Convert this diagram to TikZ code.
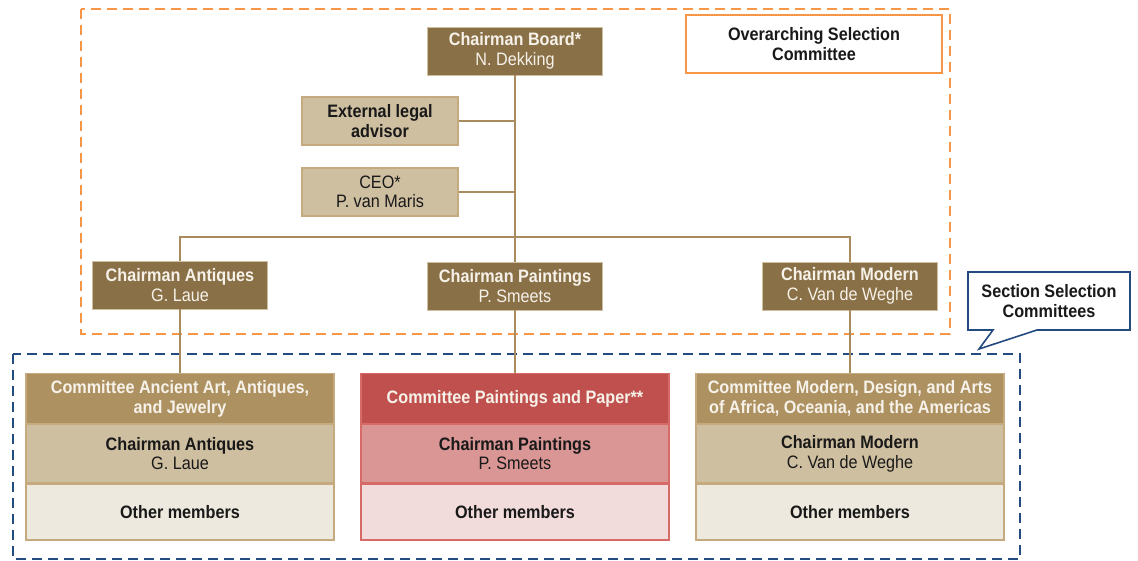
\documentclass[tikz,border=0pt]{standalone}
\usepackage{fontspec}
\setmainfont{Liberation Sans}[FakeStretch=0.9]
\definecolor{brownD}{RGB}{138,112,71}
\definecolor{tanL}{RGB}{207,191,161}
\definecolor{tanH}{RGB}{173,145,97}
\definecolor{creamL}{RGB}{237,233,222}
\definecolor{tanB}{RGB}{196,170,126}
\definecolor{lineC}{RGB}{168,140,94}
\definecolor{redH}{RGB}{192,80,77}
\definecolor{pinkM}{RGB}{217,150,148}
\definecolor{pinkL}{RGB}{242,220,219}
\definecolor{redB}{RGB}{214,106,102}
\definecolor{orangeC}{RGB}{247,150,70}
\definecolor{blueC}{RGB}{36,75,128}
\definecolor{lightT}{RGB}{246,242,233}
\definecolor{darkT}{RGB}{25,25,25}
\begin{document}
\begin{tikzpicture}[x=1pt,y=-1pt,
  txt/.style={font=\fontsize{18}{19.5}\selectfont, align=center, inner sep=0pt},
  chair/.style={txt, fill=brownD, draw=tanL, line width=0.8pt, text=lightT, minimum width=175pt, minimum height=48pt},
  side/.style={txt, fill=tanL, draw=tanB, line width=1.2pt, text=darkT, minimum width=156pt, minimum height=48pt},
  comm/.style={txt, line width=1.2pt, minimum width=308pt, anchor=north},
  conn/.style={draw=lineC, line width=2pt},
  odash/.style={draw=orangeC, line width=2.4pt, dash pattern=on 10pt off 6pt},
  bdash/.style={draw=blueC, line width=2.2pt, dash pattern=on 10pt off 6pt}
]
\useasboundingbox (0,0) rectangle (1138,561);
% group frames
\draw[odash] (81,9) rectangle (950,334);
\draw[bdash] (13,354) rectangle (1020,559);
% overarching label
\node[txt, draw=orangeC, line width=2pt, fill=white, text=darkT, minimum width=256pt, minimum height=58pt] (osc) at (814,44) {\bfseries Overarching Selection\\\bfseries Committee};
% callout
\draw[draw=blueC, line width=1.6pt, fill=white, line join=miter] (968,272) -- (1130,272) -- (1130,330) -- (1037,330) -- (979,349) -- (993,330) -- (968,330) -- cycle;
\node[txt, text=darkT] (ssc) at (1049,301) {\bfseries Section Selection\\\bfseries Committees};
% top level
\node[chair] (cb) at (515,51) {\bfseries Chairman Board*\\N. Dekking};
\node[side] (ext) at (380,121) {\bfseries External legal\\\bfseries advisor};
\node[side] (ceo) at (380,192) {CEO*\\P. van Maris};
\node[chair] (ca) at (180,285) {\bfseries Chairman Antiques\\G. Laue};
\node[chair] (cp) at (515,286) {\bfseries Chairman Paintings\\P. Smeets};
\node[chair] (cm) at (850,286) {\bfseries Chairman Modern\\C. Van de Weghe};
% committees left
\node[comm, fill=tanH, draw=tanB, text=lightT, minimum height=50pt] (ah) at (180,373) {\bfseries Committee Ancient Art, Antiques,\\\bfseries and Jewelry};
\node[comm, fill=tanL, draw=tanB, text=darkT, minimum height=58pt] (am) at (ah.south) {\bfseries Chairman Antiques\\G. Laue};
\node[comm, fill=creamL, draw=tanB, text=darkT, minimum height=56pt] (ab) at (am.south) {\bfseries Other members};
% committees middle
\node[comm, fill=redH, draw=redB, text=lightT, minimum height=50pt] (ph) at (515,373) {\bfseries Committee Paintings and Paper**};
\node[comm, fill=pinkM, draw=redB, text=darkT, minimum height=58pt] (pm) at (ph.south) {\bfseries Chairman Paintings\\P. Smeets};
\node[comm, fill=pinkL, draw=redB, text=darkT, minimum height=56pt] (pb) at (pm.south) {\bfseries Other members};
% committees right
\node[comm, fill=tanH, draw=tanB, text=lightT, minimum height=50pt] (mh) at (850,373) {\bfseries Committee Modern, Design, and Arts\\\bfseries of Africa, Oceania, and the Americas};
\node[comm, fill=tanL, draw=tanB, text=darkT, minimum height=58pt] (mm) at (mh.south) {\bfseries Chairman Modern\\C. Van de Weghe};
\node[comm, fill=creamL, draw=tanB, text=darkT, minimum height=56pt] (mb) at (mm.south) {\bfseries Other members};
% connectors
\coordinate (bl) at (180,237);
\coordinate (br) at (850,237);
\draw[conn] (cb.south) -- (cp.north);
\draw[conn] (ext.east) -- (ext.east -| cb.south);
\draw[conn] (ceo.east) -- (ceo.east -| cb.south);
\draw[conn] (ca.north) -- (bl) -- (br) -- (cm.north);
\draw[conn] (ca.south) -- (ah.north);
\draw[conn] (cp.south) -- (ph.north);
\draw[conn] (cm.south) -- (mh.north);
\end{tikzpicture}
\end{document}
